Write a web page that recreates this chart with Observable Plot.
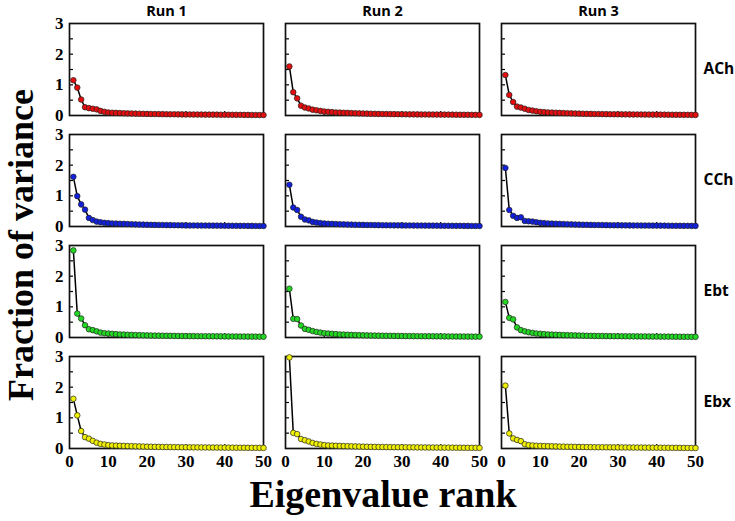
<!DOCTYPE html>
<html>
<head>
<meta charset="utf-8">
<script src="https://cdn.jsdelivr.net/npm/d3@7"></script>
<script src="https://cdn.jsdelivr.net/npm/@observablehq/plot@0.6"></script>
<style>
  html, body { margin: 0; padding: 0; background: #fff; }
</style>
</head>
<body>
<div id="chart"></div>
<script>
const runs = ["Run 1", "Run 2", "Run 3"];
const molecules = ["ACh", "CCh", "Ebt", "Ebx"];
const moleculeColors = ["#e50d0d", "#1020dd", "#22d822", "#f0f000"];

const xTickLabels = [0, 10, 20, 30, 40, 50];
const xMinorTicks = [10, 20, 30, 40];
const yTickLabels = [0, 1, 2, 3];
const yMinorTicks = [0.5, 1, 1.5, 2, 2.5];

// Fraction of variance per eigenvalue rank (1..50)
const achRun1 = [1.15, 0.91, 0.52, 0.27, 0.24, 0.22, 0.2, 0.15, 0.12, 0.1,
  0.09, 0.085, 0.08, 0.075, 0.07, 0.066, 0.062, 0.058, 0.055, 0.052,
  0.05, 0.048, 0.046, 0.044, 0.042, 0.04, 0.039, 0.038, 0.036, 0.035,
  0.034, 0.033, 0.032, 0.031, 0.03, 0.029, 0.028, 0.027, 0.026, 0.025,
  0.024, 0.023, 0.022, 0.021, 0.02, 0.019, 0.018, 0.017, 0.016, 0.015];
const achRun2 = [1.6, 0.76, 0.56, 0.32, 0.26, 0.23, 0.19, 0.17, 0.15, 0.13,
  0.12, 0.11, 0.1, 0.095, 0.09, 0.085, 0.08, 0.075, 0.07, 0.066,
  0.062, 0.058, 0.055, 0.052, 0.05, 0.048, 0.046, 0.044, 0.042, 0.04,
  0.039, 0.038, 0.037, 0.036, 0.035, 0.034, 0.033, 0.032, 0.031, 0.03,
  0.029, 0.028, 0.027, 0.026, 0.025, 0.024, 0.023, 0.022, 0.021, 0.02];
const achRun3 = [1.32, 0.67, 0.44, 0.29, 0.26, 0.22, 0.18, 0.16, 0.14, 0.12,
  0.11, 0.1, 0.095, 0.09, 0.085, 0.08, 0.075, 0.07, 0.066, 0.062,
  0.058, 0.055, 0.052, 0.05, 0.048, 0.046, 0.044, 0.042, 0.04, 0.039,
  0.038, 0.037, 0.036, 0.035, 0.034, 0.033, 0.032, 0.031, 0.03, 0.029,
  0.028, 0.027, 0.026, 0.025, 0.024, 0.023, 0.022, 0.021, 0.02, 0.019];

const cchRun1 = [1.62, 0.99, 0.72, 0.55, 0.28, 0.21, 0.16, 0.14, 0.12, 0.11,
  0.1, 0.095, 0.09, 0.085, 0.08, 0.075, 0.07, 0.066, 0.062, 0.058,
  0.055, 0.052, 0.05, 0.048, 0.046, 0.044, 0.042, 0.04, 0.038, 0.036,
  0.035, 0.034, 0.033, 0.032, 0.031, 0.03, 0.029, 0.028, 0.027, 0.026,
  0.025, 0.024, 0.023, 0.022, 0.021, 0.02, 0.019, 0.018, 0.017, 0.016];
const cchRun2 = [1.36, 0.62, 0.54, 0.32, 0.23, 0.2, 0.15, 0.13, 0.11, 0.1,
  0.09, 0.085, 0.08, 0.075, 0.07, 0.066, 0.062, 0.058, 0.055, 0.052,
  0.05, 0.048, 0.046, 0.044, 0.042, 0.04, 0.039, 0.038, 0.037, 0.036,
  0.035, 0.034, 0.033, 0.032, 0.031, 0.03, 0.029, 0.028, 0.027, 0.026,
  0.025, 0.024, 0.023, 0.022, 0.021, 0.02, 0.019, 0.018, 0.017, 0.016];
const cchRun3 = [1.91, 0.54, 0.35, 0.28, 0.3, 0.18, 0.17, 0.16, 0.14, 0.12,
  0.11, 0.1, 0.095, 0.09, 0.085, 0.08, 0.075, 0.07, 0.066, 0.062,
  0.058, 0.055, 0.052, 0.05, 0.048, 0.046, 0.044, 0.042, 0.04, 0.039,
  0.038, 0.037, 0.036, 0.035, 0.034, 0.033, 0.032, 0.031, 0.03, 0.029,
  0.028, 0.027, 0.026, 0.025, 0.024, 0.023, 0.022, 0.021, 0.02, 0.019];

const ebtRun1 = [2.84, 0.78, 0.62, 0.4, 0.27, 0.24, 0.2, 0.16, 0.14, 0.13,
  0.12, 0.11, 0.1, 0.095, 0.09, 0.085, 0.08, 0.076, 0.072, 0.068,
  0.065, 0.062, 0.06, 0.058, 0.056, 0.054, 0.052, 0.05, 0.048, 0.046,
  0.045, 0.044, 0.043, 0.042, 0.041, 0.04, 0.039, 0.038, 0.037, 0.036,
  0.035, 0.034, 0.033, 0.032, 0.031, 0.03, 0.029, 0.028, 0.027, 0.026];
const ebtRun2 = [1.59, 0.61, 0.6, 0.39, 0.28, 0.25, 0.21, 0.18, 0.16, 0.14,
  0.13, 0.12, 0.11, 0.1, 0.095, 0.09, 0.085, 0.08, 0.076, 0.072,
  0.068, 0.065, 0.062, 0.06, 0.058, 0.056, 0.054, 0.052, 0.05, 0.048,
  0.046, 0.045, 0.044, 0.043, 0.042, 0.041, 0.04, 0.039, 0.038, 0.037,
  0.036, 0.035, 0.034, 0.033, 0.032, 0.031, 0.03, 0.029, 0.028, 0.027];
const ebtRun3 = [1.16, 0.64, 0.59, 0.33, 0.24, 0.2, 0.17, 0.15, 0.13, 0.12,
  0.11, 0.1, 0.095, 0.09, 0.085, 0.08, 0.076, 0.072, 0.068, 0.064,
  0.06, 0.057, 0.054, 0.052, 0.05, 0.048, 0.046, 0.044, 0.042, 0.041,
  0.04, 0.039, 0.038, 0.037, 0.036, 0.035, 0.034, 0.033, 0.032, 0.031,
  0.03, 0.029, 0.028, 0.027, 0.026, 0.025, 0.024, 0.023, 0.022, 0.021];

const ebxRun1 = [1.62, 1.08, 0.57, 0.37, 0.32, 0.25, 0.19, 0.15, 0.13, 0.11,
  0.1, 0.095, 0.09, 0.085, 0.08, 0.076, 0.072, 0.068, 0.064, 0.06,
  0.057, 0.054, 0.052, 0.05, 0.048, 0.046, 0.044, 0.042, 0.04, 0.039,
  0.038, 0.037, 0.036, 0.035, 0.034, 0.033, 0.032, 0.031, 0.03, 0.029,
  0.028, 0.027, 0.026, 0.025, 0.024, 0.023, 0.022, 0.021, 0.02, 0.019];
const ebxRun2 = [2.97, 0.51, 0.47, 0.31, 0.27, 0.23, 0.18, 0.15, 0.13, 0.11,
  0.1, 0.095, 0.09, 0.085, 0.08, 0.076, 0.072, 0.068, 0.064, 0.06,
  0.057, 0.054, 0.052, 0.05, 0.048, 0.046, 0.044, 0.042, 0.041, 0.04,
  0.039, 0.038, 0.037, 0.036, 0.035, 0.034, 0.033, 0.032, 0.031, 0.03,
  0.029, 0.028, 0.027, 0.026, 0.025, 0.024, 0.023, 0.022, 0.021, 0.02];
const ebxRun3 = [2.05, 0.49, 0.33, 0.28, 0.24, 0.14, 0.11, 0.1, 0.09, 0.085,
  0.08, 0.076, 0.072, 0.068, 0.064, 0.06, 0.057, 0.054, 0.052, 0.05,
  0.048, 0.046, 0.044, 0.042, 0.041, 0.04, 0.039, 0.038, 0.037, 0.036,
  0.035, 0.034, 0.033, 0.032, 0.031, 0.03, 0.029, 0.028, 0.027, 0.026,
  0.025, 0.024, 0.023, 0.022, 0.021, 0.02, 0.019, 0.018, 0.017, 0.016];

const seriesByMolecule = {
  ACh: [achRun1, achRun2, achRun3],
  CCh: [cchRun1, cchRun2, cchRun3],
  Ebt: [ebtRun1, ebtRun2, ebtRun3],
  Ebx: [ebxRun1, ebxRun2, ebxRun3]
};

const rows = [];
molecules.forEach(mol => {
  seriesByMolecule[mol].forEach((vals, ri) => {
    vals.forEach((v, i) => rows.push({run: runs[ri], mol, rank: i + 1, value: v}));
  });
});

const serif = "'Liberation Serif', 'Times New Roman', 'DejaVu Serif', serif";
const sans = "'Open Sans', 'Liberation Sans', Arial, sans-serif";

const M = {marginTop: 21, marginRight: 39, marginBottom: 72, marginLeft: 68};

const chart = Plot.plot({
  width: 735,
  height: 521,
  ...M,
  facet: {...M},
  fx: {domain: runs, paddingInner: 0.1, paddingOuter: 0, axis: null},
  fy: {domain: molecules, paddingInner: 0.175, paddingOuter: 0, axis: null},
  x: {domain: [0, 50], axis: null},
  y: {domain: [0, 3], axis: null},
  color: {domain: molecules, range: moleculeColors},
  style: {background: "#fff", color: "#000"},
  marks: [
    Plot.axisY(yMinorTicks, {anchor: "left", tickSize: -4, fill: "none", label: null, facetAnchor: null, strokeWidth: 1.2}),
    Plot.axisX(xMinorTicks, {anchor: "bottom", tickSize: -4, fill: "none", label: null, facetAnchor: null, strokeWidth: 1.2}),
    Plot.axisY(yTickLabels, {anchor: "left", tickSize: 0, tickPadding: 6, label: null, fontSize: 17, fontWeight: "bold", fontFamily: serif}),
    Plot.axisX(xTickLabels, {anchor: "bottom", tickSize: 0, tickPadding: 6, label: null, fontSize: 17, fontWeight: "bold", fontFamily: serif}),
    Plot.axisFx({anchor: "top", tickSize: 0, tickPadding: 8, label: null, fontSize: 14.5, fontWeight: "bold", fontFamily: sans}),
    Plot.axisFy({anchor: "right", tickSize: 0, tickPadding: 8, label: null, fontSize: 15.5, fontWeight: "bold", fontFamily: sans}),
    Plot.frame({stroke: "#111", strokeWidth: 1.7}),
    Plot.line(rows, {x: "rank", y: "value", fx: "run", fy: "mol", z: d => d.run + d.mol, stroke: "#000", strokeWidth: 1.5}),
    Plot.dot(rows, {x: "rank", y: "value", fx: "run", fy: "mol", fill: "mol", r: 2.8, stroke: "#222", strokeWidth: 0.7})
  ]
});

const svg = d3.select(chart);
svg.append("text")
  .attr("transform", "translate(33,245) rotate(-90)")
  .attr("text-anchor", "middle")
  .attr("font-family", serif)
  .attr("font-weight", "bold")
  .attr("font-size", 36)
  .attr("fill", "#000")
  .text("Fraction of variance");
svg.append("text")
  .attr("x", 383)
  .attr("y", 507)
  .attr("text-anchor", "middle")
  .attr("font-family", serif)
  .attr("font-weight", "bold")
  .attr("font-size", 38)
  .attr("fill", "#000")
  .text("Eigenvalue rank");

document.getElementById("chart").appendChild(chart);
</script>
</body>
</html>
